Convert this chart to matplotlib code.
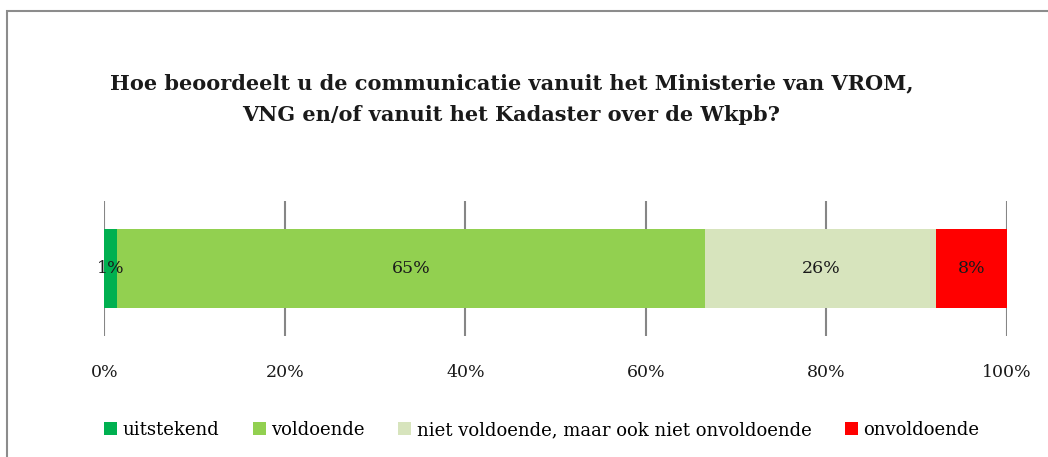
import matplotlib.pyplot as plt
from matplotlib.patches import Rectangle

categories = ['uitstekend', 'voldoende', 'niet voldoende, maar ook niet onvoldoende', 'onvoldoende']
values = [1.4, 65.2, 25.6, 7.8]
colors = ['#00B050', '#92D050', '#D7E4BD', '#FF0000']
ticks = [0, 20, 40, 60, 80, 100]
title = 'Hoe beoordeelt u de communicatie vanuit het Ministerie van VROM,\nVNG en/of vanuit het Kadaster over de Wkpb?'

plt.rcParams['font.family'] = ['DejaVu Serif']

fig = plt.figure(figsize=(10.48, 4.57), dpi=100)
ax = fig.add_axes([0.0997, 0.2648, 0.8609, 0.2954])

left = 0
for cat, v, c in zip(categories, values, colors):
    ax.barh(0, v, left=left, height=0.585, color=c, label=cat, zorder=2)
    ax.text(left + v / 2, 0, '%d%%' % round(v), ha='center', va='center',
            fontsize=12.5, color='#1a1a1a', zorder=3)
    left += v

ax.set_xlim(0, 100)
ax.set_ylim(-0.5, 0.5)
ax.set_yticks([])
ax.set_xticks(ticks)
ax.set_xticklabels(['%d%%' % t for t in ticks], fontsize=12.5, color='#1a1a1a')
ax.tick_params(axis='x', length=0, pad=20)
ax.grid(axis='x', color='#868686', linewidth=1.5, zorder=0)
for s in ax.spines.values():
    s.set_visible(False)

fig.text(0.488, 0.783, title, ha='center', va='center', fontsize=15,
         fontweight='bold', linespacing=1.72, color='#1a1a1a')

fig.legend(loc='center', bbox_to_anchor=(0.517, 0.059), ncol=4, frameon=False,
           fontsize=13, handlelength=0.72, handleheight=0.72, handletextpad=0.3,
           columnspacing=1.85)

fig.add_artist(Rectangle((7 / 1048, -0.1), 1.2, 1 - 11 / 457 + 0.1,
                         transform=fig.transFigure, fill=False,
                         edgecolor='#8c8c8c', linewidth=1.5))

fig.savefig('out.png', dpi=100)
